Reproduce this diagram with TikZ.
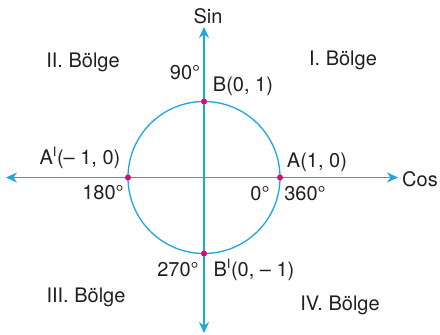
\documentclass[tikz,border=0pt]{standalone}
\usepackage{fontspec}
\setmainfont{TeX Gyre Heros}
\usetikzlibrary{arrows.meta}
\definecolor{axc}{HTML}{1BA8E0}
\definecolor{dotc}{HTML}{E5007E}
\definecolor{txt}{HTML}{231F20}
\newcommand{\primeI}{\textsuperscript{\fontsize{13}{13}\selectfont I}}
\begin{document}
\begin{tikzpicture}[x=1pt,y=-1pt,
  ax/.style={draw=axc,line width=1.4pt,-{Stealth[length=11pt,width=10pt]}},
  lbl/.style={text=txt,font=\fontsize{20}{20}\selectfont,inner sep=0pt},
  pdot/.style={circle,fill=dotc,minimum size=6pt,inner sep=0pt}]
\useasboundingbox (0,0) rectangle (440,335);
\coordinate (O) at (204,177.5);
\coordinate (L) at (6,177.5);
\coordinate (R) at (398,177.5);
\coordinate (T) at (204,27);
\coordinate (Bt) at (204,333);
\draw[ax] (O) -- (L);
\draw[ax] (O) -- (R);
\draw[ax] (O) -- (T);
\draw[ax] (O) -- (Bt);
\draw[axc,line width=1.3pt] (O) circle[radius=76];
\node[pdot] (A) at (280,177.5) {};
\node[pdot] (A1) at (128,177.5) {};
\node[pdot] (B) at (204,101.5) {};
\node[pdot] (B1) at (204,253.5) {};
\node[lbl] (sin) at (208,16) {Sin};
\node[lbl,anchor=west] (cos) at (402,179) {Cos};
\node[lbl] (q2) at (83,62) {II. Bölge};
\node[lbl] (q1) at (343,60) {I. Bölge};
\node[lbl] (q3) at (86,297) {III. Bölge};
\node[lbl] (q4) at (340,305) {IV. Bölge};
\node[lbl] (d90) at (185,73) {90°};
\node[lbl] (lB) at (243,86) {B(0, 1)};
\node[lbl] (lA1) at (80,158) {A\primeI(– 1, 0)};
\node[lbl] (d180) at (103,193) {180°};
\node[lbl] (lA) at (317,162) {A(1, 0)};
\node[lbl] (d0) at (260,194) {0°};
\node[lbl] (d360) at (305,194) {360°};
\node[lbl] (d270) at (178,270) {270°};
\node[lbl] (lB1) at (254,270) {B\primeI(0, – 1)};
\end{tikzpicture}
\end{document}
